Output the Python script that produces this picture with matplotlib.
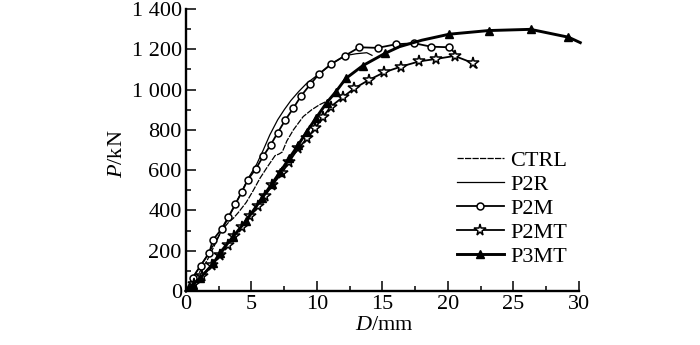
import matplotlib
matplotlib.use("Agg")
import matplotlib.pyplot as plt
from matplotlib.ticker import MultipleLocator, FuncFormatter

plt.rcParams["font.family"] = ["Liberation Serif", "DejaVu Serif"]
plt.rcParams["mathtext.fontset"] = "custom"
plt.rcParams["mathtext.rm"] = "Liberation Serif"
plt.rcParams["mathtext.it"] = "Liberation Serif:italic"

# Load-displacement curves (D in mm, P in kN)
ctrl_d = [0, 0.8, 1.6, 2.2, 2.72, 3.3, 3.6, 4.0, 4.6, 5.1, 5.65, 6.2, 6.8, 7.1, 7.35, 7.7, 8.2, 8.95, 9.6, 10.2, 11.0]
ctrl_p = [0, 70, 150, 230, 300, 345, 360, 390, 440, 495, 560, 615, 672, 680, 690, 745, 800, 866, 900, 925, 950]

p2r_d = [0, 0.8, 1.5, 2.3, 2.8, 3.3, 3.8, 4.3, 4.8, 5.4, 5.9, 6.4, 7.0, 7.5, 8.0, 8.6, 9.2, 9.8, 10.5, 11.2, 12.1, 13.0, 13.8, 14.2]
p2r_p = [0, 95, 165, 250, 310, 370, 435, 500, 565, 630, 700, 775, 850, 900, 945, 990, 1030, 1060, 1095, 1130, 1168, 1178, 1183, 1170]

p2m_d = [0, 0.51, 1.12, 1.78, 2.04, 2.72, 3.23, 3.76, 4.25, 4.72, 5.35, 5.88, 6.46, 7.0, 7.58, 8.19, 8.78, 9.49, 10.15, 11.08, 12.14, 13.23, 14.63, 16.03, 17.43, 18.7, 20.1, 20.55]
p2m_p = [0, 67, 126, 190, 252, 308, 367, 430, 490, 553, 608, 668, 725, 786, 849, 907, 968, 1026, 1077, 1127, 1168, 1210, 1207, 1225, 1230, 1213, 1210, 1180]

p2mt_d = [0, 0.6, 1.2, 2.0, 2.6, 3.2, 3.7, 4.3, 4.9, 5.5, 6.0, 6.59, 7.3, 7.88, 8.57, 9.26, 9.85, 10.43, 11.05, 11.96, 12.85, 13.97, 15.14, 16.41, 17.81, 19.08, 20.5, 21.9, 22.2]
p2mt_p = [0, 35, 75, 130, 180, 230, 275, 320, 370, 420, 470, 526, 584, 642, 708, 758, 808, 862, 915, 962, 1006, 1048, 1086, 1114, 1140, 1152, 1167, 1132, 1108]

p3mt_d = [0, 0.5, 1.07, 2.09, 2.6, 3.6, 4.6, 5.8, 6.54, 7.18, 7.88, 8.57, 9.2, 9.92, 10.74, 11.45, 12.2, 13.5, 15.2, 16.3, 18.0, 20.1, 23.1, 26.3, 29.2, 30.1]
p3mt_p = [0, 30, 63, 137, 190, 270, 350, 460, 531, 590, 659, 725, 790, 858, 935, 990, 1055, 1119, 1180, 1213, 1245, 1275, 1293, 1299, 1260, 1233]

x_ticks = [0, 5, 10, 15, 20, 25, 30]
y_ticks = [0, 200, 400, 600, 800, 1000, 1200, 1400]

fig = plt.figure(figsize=(7.0, 3.45), dpi=100)
ax = fig.add_axes([0.2657, 0.1565, 0.5614, 0.8174])

k = "black"
fs = 16
ax.plot(ctrl_d, ctrl_p, color=k, lw=0.9, dashes=(5, 1), label="CTRL", clip_on=False)
ax.plot(p2r_d, p2r_p, color=k, lw=0.9, label="P2R", clip_on=False)
ax.plot(p2m_d, p2m_p, color=k, lw=1.3, marker="o", ms=5, mfc="white", mec=k, mew=1.1,
        markevery=list(range(1, len(p2m_d) - 1)), label="P2M", clip_on=False)
ax.plot(p2mt_d, p2mt_p, color=k, lw=1.3, marker="*", ms=8.5, mfc="white", mec=k, mew=1.1,
        markevery=list(range(1, len(p2mt_d) - 1)), label="P2MT", clip_on=False)
p3_marks = [i for i in range(1, len(p3mt_d) - 1) if p3mt_d[i] not in (16.3, 18.0)]
ax.plot(p3mt_d, p3mt_p, color=k, lw=2.1, marker="^", ms=5.5, mfc=k, mec=k,
        markevery=p3_marks, label="P3MT", clip_on=False)

ax.set_xlim(0, 30)
ax.set_ylim(0, 1400)
ax.set_xticks(x_ticks)
ax.set_yticks(y_ticks)
ax.xaxis.set_minor_locator(MultipleLocator(2.5))
ax.yaxis.set_minor_locator(MultipleLocator(100))


def thousands(v, pos):
    v = int(round(v))
    if v >= 1000:
        return f"{v // 1000} {v % 1000:03d}"
    return str(v)


ax.yaxis.set_major_formatter(FuncFormatter(thousands))

for s in ("top", "right"):
    ax.spines[s].set_visible(False)
for s in ("left", "bottom"):
    ax.spines[s].set_linewidth(1.7)

ax.tick_params(which="major", direction="in", length=7, width=1.1, labelsize=fs, pad=3)
ax.tick_params(which="minor", direction="in", length=3.5, width=1.1)

ax.set_xlabel(r"$D$/mm", fontsize=fs)
ax.set_ylabel(r"$P$/kN", fontsize=fs)
ax.xaxis.set_label_coords(0.506, -0.088)
ax.yaxis.set_label_coords(-0.15, 0.486)

leg = ax.legend(loc="upper left", bbox_to_anchor=(0.69, 0.50), frameon=False, fontsize=fs,
                handlelength=2.1, handletextpad=0.3, labelspacing=0.16, borderpad=0,
                borderaxespad=0, numpoints=1)

fig.savefig("out.png", dpi=100)
